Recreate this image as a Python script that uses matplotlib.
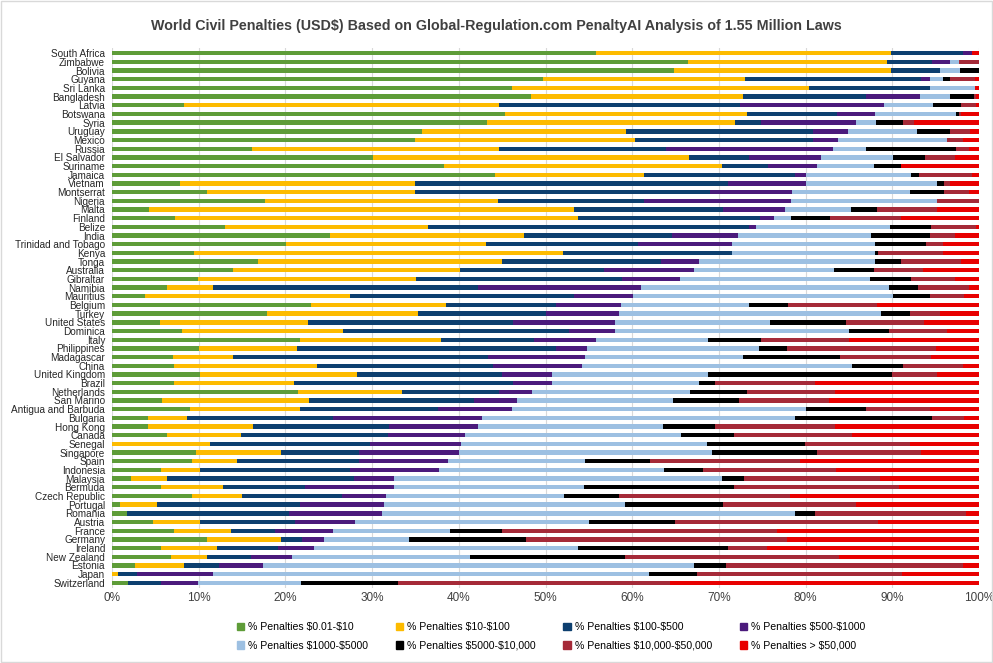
import numpy as np
import matplotlib
matplotlib.use('Agg')
import matplotlib.pyplot as plt
from matplotlib.patches import Rectangle, Patch

plt.rcParams['font.family'] = ['Liberation Sans', 'DejaVu Sans']

countries = ['South Africa', 'Zimbabwe', 'Bolivia', 'Guyana', 'Sri Lanka', 'Bangladesh', 'Latvia',
             'Botswana', 'Syria', 'Uruguay', 'Mexico', 'Russia', 'El Salvador', 'Suriname',
             'Jamaica', 'Vietnam', 'Montserrat', 'Nigeria', 'Malta', 'Finland', 'Belize', 'India',
             'Trinidad and Tobago', 'Kenya', 'Tonga', 'Australia', 'Gibraltar', 'Namibia',
             'Mauritius', 'Belgium', 'Turkey', 'United States', 'Dominica', 'Italy', 'Philippines',
             'Madagascar', 'China', 'United Kingdom', 'Brazil', 'Netherlands', 'San Marino',
             'Antigua and Barbuda', 'Bulgaria', 'Hong Kong', 'Canada', 'Senegal', 'Singapore',
             'Spain', 'Indonesia', 'Malaysia', 'Bermuda', 'Czech Republic', 'Portugal', 'Romania',
             'Austria', 'France', 'Germany', 'Ireland', 'New Zealand', 'Estonia', 'Japan',
             'Switzerland']

# share of penalties per band, in %
p_0_10 = [55.8, 66.4, 64.8, 49.7, 46.1, 48.3, 8.3, 45.3, 43.2, 35.7,
          35.0, 16.1, 30.1, 38.3, 44.2, 7.8, 10.9, 17.6, 4.3, 7.3,
          13.0, 25.2, 20.1, 9.4, 16.8, 14.0, 9.9, 6.4, 3.8, 22.9,
          17.9, 5.5, 8.1, 21.7, 10.0, 7.0, 7.1, 10.2, 7.2, 21.5,
          5.8, 9.0, 4.1, 4.2, 6.4, 0, 9.7, 9.2, 5.6, 2.2,
          5.6, 9.2, 0.9, 1.7, 4.7, 7.2, 10.9, 5.6, 6.8, 2.6,
          0, 1.9]
p_10_100 = [34.0, 23.0, 25.0, 23.3, 34.3, 24.5, 36.3, 27.9, 28.6, 23.6,
            25.3, 28.5, 36.5, 32.0, 17.2, 27.1, 24.0, 26.9, 49.0, 46.5,
            23.4, 22.3, 23.0, 42.6, 28.2, 26.1, 25.2, 5.3, 23.7, 15.6,
            17.4, 17.1, 18.6, 16.2, 11.3, 7.0, 16.6, 18.1, 13.8, 12.0,
            16.9, 12.7, 4.5, 12.1, 8.5, 11.3, 9.8, 5.2, 4.6, 4.1,
            7.2, 5.8, 4.3, 0, 5.4, 6.5, 8.6, 6.5, 4.1, 5.7,
            0.7, 0]
p_100_500 = [8.3, 5.2, 5.7, 20.3, 14.0, 14.2, 27.8, 10.4, 3.1, 21.5,
             20.5, 19.3, 6.9, 5.4, 17.4, 36.2, 34.1, 16.9, 17.2, 20.9,
             37.1, 17.1, 17.6, 19.5, 18.3, 16.7, 23.7, 30.5, 25.8, 12.7,
             14.7, 23.7, 26.0, 10.8, 29.9, 29.4, 20.3, 16.7, 25.2, 11.1,
             19.0, 15.9, 16.9, 15.6, 16.9, 18.5, 9.0, 14.1, 17.3, 21.6,
             9.5, 11.5, 16.5, 18.7, 11.0, 5.1, 2.4, 7.0, 5.1, 4.0,
             2.2, 3.8]
p_500_1000 = [1.1, 2.1, 0, 1.1, 0, 6.2, 16.7, 4.4, 10.9, 4.1,
              2.9, 19.3, 8.3, 5.6, 1.2, 8.9, 9.4, 16.9, 7.1, 1.7,
              0.8, 7.6, 10.8, 0, 4.4, 10.3, 6.7, 18.8, 6.8, 7.5,
              8.5, 11.7, 5.3, 7.1, 3.6, 11.2, 10.2, 5.8, 4.6, 3.9,
              5.0, 8.5, 17.2, 10.3, 8.9, 10.5, 11.5, 10.3, 10.2, 4.6,
              10.2, 5.1, 9.7, 10.7, 6.9, 6.7, 2.6, 4.2, 4.8, 5.1,
              8.8, 4.2]
p_1000_5000 = [0, 1.0, 2.3, 1.5, 5.1, 3.5, 5.6, 9.4, 2.3, 7.9,
               12.6, 3.8, 8.3, 6.6, 12.2, 15.1, 13.6, 16.8, 7.6, 1.9,
               15.4, 15.4, 16.5, 16.5, 20.3, 16.2, 21.9, 28.6, 30.0, 14.8,
               30.2, 17.9, 27.0, 13.0, 19.8, 18.2, 31.1, 17.9, 16.9, 18.2,
               18.0, 34.0, 36.1, 21.3, 24.9, 28.3, 29.2, 15.7, 26.0, 37.8,
               21.9, 20.5, 27.8, 47.7, 27.0, 13.5, 9.7, 30.4, 20.5, 49.7,
               50.2, 11.9]
p_5000_10000 = [0, 0, 2.2, 0.8, 0, 2.7, 3.2, 0.3, 3.1, 3.9,
                0, 10.4, 3.7, 3.1, 0.9, 0.9, 4.0, 0, 3.0, 4.5,
                4.8, 6.7, 5.9, 0.4, 3.0, 4.6, 4.7, 3.4, 4.2, 4.5,
                3.3, 8.8, 4.6, 6.0, 3.2, 11.2, 5.9, 21.3, 1.9, 6.5,
                7.6, 6.9, 15.8, 6.1, 6.1, 11.3, 12.1, 7.6, 4.5, 2.6,
                17.3, 6.4, 11.3, 2.3, 9.9, 6.0, 13.5, 17.3, 17.9, 3.7,
                5.6, 11.2]
p_10000_50000 = [0, 2.3, 0, 2.8, 0, 0.2, 1.7, 0.2, 1.3, 2.3,
                 1.9, 1.4, 3.4, 0, 6.1, 0.6, 2.8, 4.9, 6.9, 8.2,
                 5.2, 2.9, 1.9, 7.4, 6.9, 5.6, 5.1, 5.8, 4.0, 10.2,
                 3.5, 9.0, 6.7, 10.2, 17.2, 10.5, 6.9, 5.1, 11.5, 10.2,
                 10.4, 7.3, 3.7, 13.8, 13.6, 12.1, 12.0, 17.3, 15.3, 15.7,
                 19.1, 19.7, 15.3, 17.4, 23.4, 31.7, 30.2, 4.5, 24.7, 27.3,
                 23.6, 31.4]
p_over_50000 = [0.8, 0, 0, 0.5, 0.5, 0.4, 0.4, 2.1, 7.5, 1.0,
                1.8, 1.2, 2.8, 9.0, 0.8, 3.4, 1.2, 0, 4.9, 9.0,
                0.3, 2.8, 4.2, 4.2, 2.1, 6.5, 2.8, 1.2, 1.7, 11.8,
                4.5, 6.3, 3.7, 15.0, 5.0, 5.5, 1.9, 4.9, 18.9, 16.6,
                17.3, 5.7, 1.7, 16.6, 14.7, 8.0, 6.7, 20.6, 16.5, 11.4,
                9.2, 21.8, 14.2, 1.5, 11.7, 23.3, 22.1, 24.5, 16.1, 1.9,
                8.9, 35.6]

labels = ['% Penalties \\$0.01-\\$10', '% Penalties \\$10-\\$100', '% Penalties \\$100-\\$500',
          '% Penalties \\$500-\\$1000', '% Penalties \\$1000-\\$5000',
          '% Penalties \\$5000-\\$10,000', '% Penalties \\$10,000-\\$50,000',
          '% Penalties > \\$50,000']
colors = ['#5E9C38', '#FDBB00', '#0D3F6F', '#4B1A7C', '#9DC0E2', '#000000', '#A52A38', '#E80000']
series = [p_0_10, p_10_100, p_100_500, p_500_1000, p_1000_5000, p_5000_10000,
          p_10000_50000, p_over_50000]

fig = plt.figure(figsize=(9.93, 6.63), dpi=100)
ax = fig.add_axes([0.1128, 0.1131, 0.8731, 0.8145])

y = np.arange(len(countries))
left = np.zeros(len(countries))
for vals, col, lab in zip(series, colors, labels):
    vals = np.array(vals)
    ax.barh(y, vals, left=left, height=0.5, color=col, label=lab, linewidth=0, zorder=3)
    left += vals

ax.set_xlim(0, 100)
ax.set_ylim(len(countries) - 0.4, -0.6)
ax.set_yticks(y)
ax.set_yticklabels(countries, fontsize=7.2, color='#262626')
ax.set_xticks(np.arange(0, 101, 10))
ax.set_xticklabels(['%d%%' % v for v in range(0, 101, 10)], fontsize=8.5, color='#404040')
ax.tick_params(length=0, pad=3)
ax.tick_params(axis='y', pad=5)
ax.grid(axis='x', color='#D9D9D9', linewidth=0.8, zorder=0)
for s in ax.spines.values():
    s.set_visible(False)

fig.text(0.5, 0.961, 'World Civil Penalties (USD\\$) Based on Global-Regulation.com PenaltyAI Analysis of 1.55 Million Laws',
         ha='center', va='center', fontsize=10.3, fontweight='bold', color='#404040')

# legend in row-major order (matplotlib fills columns first)
handles = [Patch(color=c) for c in colors]
order = [0, 4, 1, 5, 2, 6, 3, 7]
fig.legend([handles[i] for i in order], [labels[i] for i in order], ncol=4,
           loc='center', bbox_to_anchor=(0.555, 0.04), frameon=False, fontsize=7.6,
           handlelength=0.7, handleheight=0.7, columnspacing=2.6, labelspacing=0.8,
           handletextpad=0.4)

fig.patches.append(Rectangle((0.001, 0.001), 0.998, 0.998, transform=fig.transFigure,
                             fill=False, edgecolor='#D9D9D9', linewidth=1))

fig.savefig('out.png', dpi=100)
